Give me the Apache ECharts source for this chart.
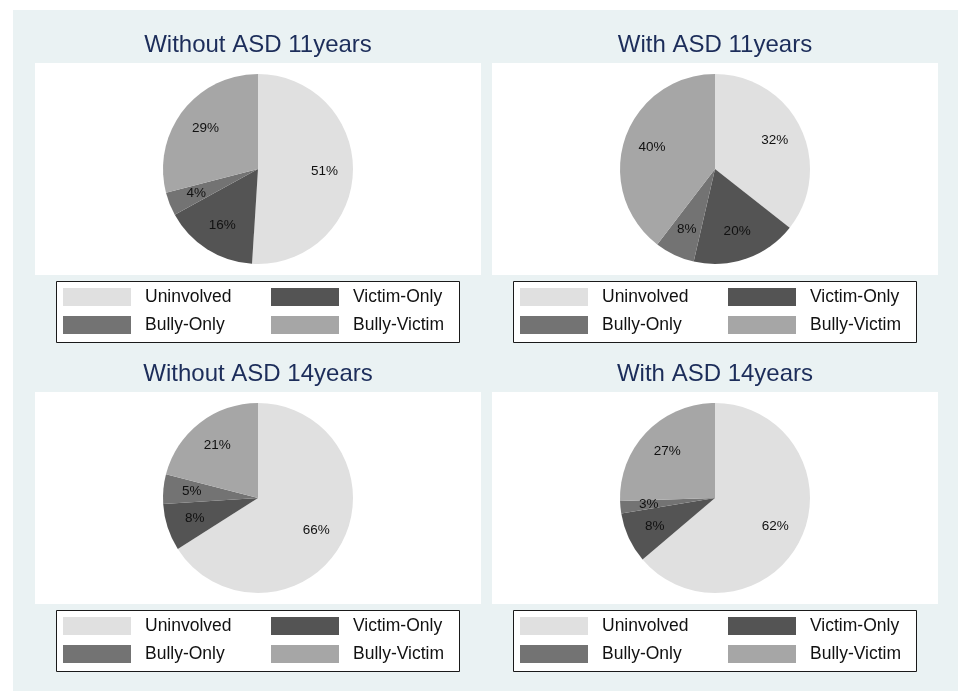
<!DOCTYPE html>
<html>
<head>
<meta charset="utf-8">
<script src="https://cdn.jsdelivr.net/npm/echarts@6/dist/echarts.min.js"></script>
<style>
html,body{margin:0;padding:0;background:#fff;}
#c{width:958px;height:691px;}
</style>
</head>
<body>
<div id="c"></div>
<script>
// ---- data ----
const categories = ['Uninvolved', 'Victim-Only', 'Bully-Only', 'Bully-Victim'];
const panelTitles = ['Without ASD 11years', 'With ASD 11years', 'Without ASD 14years', 'With ASD 14years'];
// slice sizes as read from the drawn wedges (percent)
const withoutASD11 = [51, 16, 4, 29];
const withASD11 = [35.6, 18.0, 6.8, 39.6];
const withoutASD14 = [66, 8, 5, 21];
const withASD14 = [63.8, 8.6, 2.1, 25.5];
// printed labels
const withoutASD11Labels = ['51%', '16%', '4%', '29%'];
const withASD11Labels = ['32%', '20%', '8%', '40%'];
const withoutASD14Labels = ['66%', '8%', '5%', '21%'];
const withASD14Labels = ['62%', '8%', '3%', '27%'];

// ---- styles / layout ----
const colors = ['#e0e0e0', '#545454', '#737373', '#a6a6a6'];
const FONT = '"Liberation Sans", Arial, Helvetica, sans-serif';
const panelValues = [withoutASD11, withASD11, withoutASD14, withASD14];
const panelLabels = [withoutASD11Labels, withASD11Labels, withoutASD14Labels, withASD14Labels];
const dx = [0, 457, 0, 457];
const dy = [0, 0, 329, 329];

const chart = echarts.init(document.getElementById('c'), null, {renderer: 'canvas'});

const graphics = [
  {type: 'rect', shape: {x: 13, y: 10, width: 945, height: 681}, style: {fill: '#eaf2f3'}, z: -10, silent: true}
];
const titles = [];
const series = [];
const legends = [];

for (let p = 0; p < 4; p++) {
  const ox = dx[p], oy = dy[p];
  const cx = 258 + ox, cy = 169 + oy;
  // white plot region
  graphics.push({type: 'rect', shape: {x: 35 + ox, y: 63 + oy, width: 446, height: 212}, style: {fill: '#ffffff'}, z: -9, silent: true});
  // legend box
  graphics.push({type: 'rect', shape: {x: 56.5 + ox, y: 281.5 + oy, width: 403, height: 61}, style: {fill: '#ffffff', stroke: '#1a1a1a', lineWidth: 1}, z: -8, silent: true});

  titles.push({
    text: panelTitles[p], left: cx, top: 33 + oy, textAlign: 'center', padding: 0,
    textStyle: {fontFamily: FONT, fontSize: 24, fontWeight: 'normal', color: '#1c2d5a'}
  });

  const data = categories.map((c, i) => ({name: c, value: panelValues[p][i], itemStyle: {color: colors[i]}}));
  series.push({
    type: 'pie', center: [cx, cy], radius: [0, 95], startAngle: 90, clockwise: true,
    data: data, label: {show: false}, labelLine: {show: false}, silent: true,
    avoidLabelOverlap: false
  });
  series.push({
    type: 'pie', center: [cx, cy], radius: [32, 95], startAngle: 90, clockwise: true,
    data: categories.map((c, i) => ({name: c, value: panelValues[p][i], itemStyle: {color: 'rgba(0,0,0,0)'},
      label: {formatter: panelLabels[p][i]}})),
    label: {show: true, position: 'inside', fontFamily: FONT, fontSize: 13.5, color: '#111'},
    labelLine: {show: false}, silent: true, avoidLabelOverlap: false, z: 3
  });

  const legCommon = {
    orient: 'vertical', top: 288 + oy, padding: 0, itemWidth: 68, itemHeight: 18, itemGap: 10,
    icon: 'rect', selectedMode: false,
    textStyle: {fontFamily: FONT, fontSize: 17.5, color: '#111', padding: [0, 0, 0, 9]}
  };
  legends.push(Object.assign({}, legCommon, {
    left: 63 + ox,
    data: [{name: categories[0], itemStyle: {color: colors[0]}}, {name: categories[2], itemStyle: {color: colors[2]}}]
  }));
  legends.push(Object.assign({}, legCommon, {
    left: 271 + ox,
    data: [{name: categories[1], itemStyle: {color: colors[1]}}, {name: categories[3], itemStyle: {color: colors[3]}}]
  }));
}

chart.setOption({
  animation: false,
  backgroundColor: '#ffffff',
  graphic: graphics,
  title: titles,
  legend: legends,
  series: series
});
</script>
</body>
</html>
